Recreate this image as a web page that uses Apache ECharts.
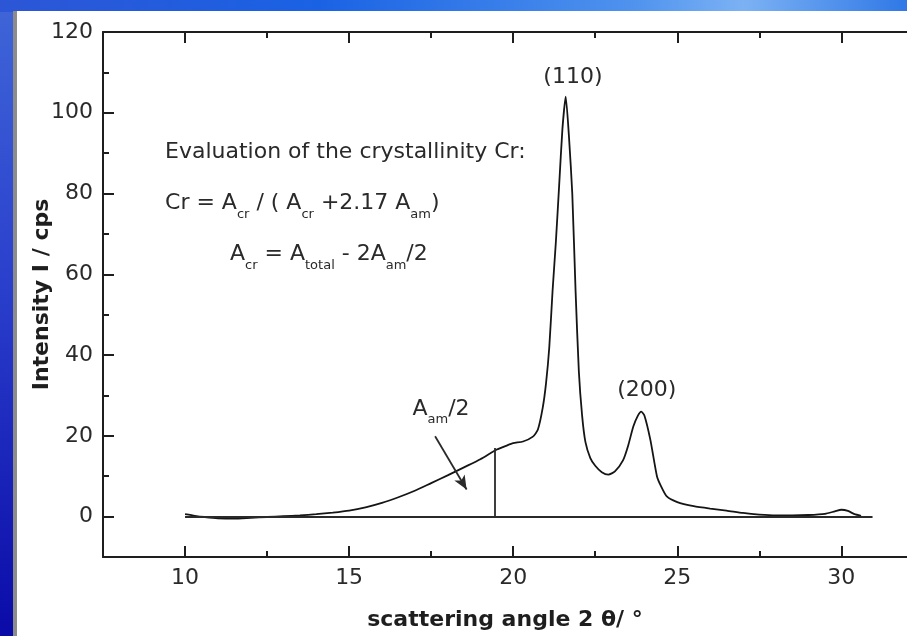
<!DOCTYPE html>
<html>
<head>
<meta charset="utf-8">
<title>Crystallinity evaluation</title>
<script src="https://cdn.jsdelivr.net/npm/echarts@6/dist/echarts.min.js"></script>
<style>
  html, body { margin: 0; padding: 0; }
  body { width: 907px; height: 636px; position: relative; overflow: hidden;
         background: linear-gradient(180deg, #3f66d8 0%, #2a3fcc 45%, #0b0ba8 100%); }
  #topband { position: absolute; left: 0; top: 0; width: 907px; height: 12px;
             background: linear-gradient(90deg, #2c56d6 0%, #1a62e4 35%, #4f93ee 70%, #7cb2f4 82%, #2f78e6 100%); }
  #panel { position: absolute; left: 13px; top: 11px; right: 0; bottom: 0;
           background: #fff; border-left: 4px solid #8c8c8c; }
  #chart { position: absolute; left: 0; top: 0; width: 907px; height: 636px; }
</style>
</head>
<body>
<div id="topband"></div>
<div id="panel"></div>
<div id="chart"></div>
<script>
  // scattering angle 2θ (°) and intensity (cps)
  const angle = [
    10.0, 10.3, 10.6, 11.0, 11.5, 12.0, 12.5, 13.0, 13.5, 14.0,
    14.5, 15.0, 15.5, 16.0, 16.5, 17.0, 17.5, 18.0, 18.5, 19.0,
    19.5, 19.8, 20.0, 20.3, 20.6, 20.75, 20.9, 21.0, 21.1, 21.2,
    21.3, 21.4, 21.5, 21.6, 21.7, 21.8, 21.9, 22.0, 22.1, 22.2,
    22.35, 22.5, 22.7, 22.9, 23.1, 23.35, 23.5, 23.66, 23.8, 23.9,
    24.0, 24.18, 24.38, 24.5, 24.68, 25.0, 25.5, 26.0, 26.5, 27.0,
    27.5, 28.0, 28.5, 29.0, 29.5, 29.8, 30.0, 30.2, 30.4, 30.6
  ];
  const intensity = [
    0.6, 0.2, -0.1, -0.4, -0.5, -0.3, -0.1, 0.1, 0.3, 0.6,
    1.0, 1.5, 2.3, 3.4, 4.8, 6.4, 8.3, 10.2, 12.2, 14.2,
    16.6, 17.6, 18.2, 18.6, 19.8, 21.5, 27, 33, 42, 56,
    68, 82, 96, 104, 94, 80, 56, 36, 25, 18.5,
    14.5, 12.6, 11.0, 10.4, 11.2, 14.0, 17.5, 22.3, 25.0, 26.0,
    25.0, 19.0, 10.0, 7.6, 5.0, 3.6, 2.6, 2.0, 1.5, 0.9,
    0.5, 0.3, 0.3, 0.4, 0.7, 1.3, 1.7, 1.4, 0.6, 0.2
  ];

  const xMajorTicks = [10, 15, 20, 25, 30];
  const xMinorTicks = [12.5, 17.5, 22.5, 27.5];
  const yMajorTicks = [0, 20, 40, 60, 80, 100, 120];
  const yMinorTicks = [10, 30, 50, 70, 90, 110];

  const FONT = 'DejaVu Sans';
  const INK = '#1e1e1e';
  const TEXT = '#2a2a2a';

  const chart = echarts.init(document.getElementById('chart'), null, { renderer: 'canvas' });

  function valueAxis(extra) {
    return Object.assign({
      type: 'value',
      splitLine: { show: false },
      axisLine: { show: true, onZero: false, lineStyle: { color: INK, width: 2 } },
      axisLabel: { show: false },
      axisTick: { show: true, inside: true, lineStyle: { color: INK, width: 2 } }
    }, extra);
  }

  const hiddenLine = { show: false, onZero: false };
  const xRange = { min: 7.5, max: 32 };
  const yRange = { min: -10, max: 120 };

  const normal = { fontFamily: FONT, fontSize: 22, color: TEXT };
  const sub = { fontFamily: FONT, fontSize: 13, color: TEXT, padding: [22, 0, 0, 0] };
  const richText = { n: normal, s: sub };

  function textMark(coord, formatter, position) {
    return {
      coord: coord,
      symbol: 'circle',
      symbolSize: 0,
      label: {
        show: true,
        position: position,
        distance: 0,
        formatter: formatter,
        rich: richText
      }
    };
  }

  const option = {
    animation: false,
    backgroundColor: 'transparent',
    grid: { left: 103, top: 32, right: 0, bottom: 79, containLabel: false, outerBoundsMode: 'none' },
    xAxis: [
      valueAxis(Object.assign({}, xRange, {
        position: 'bottom',
        name: 'scattering angle 2 θ/ °',
        nameLocation: 'middle',
        nameGap: 52,
        nameMoveOverlap: false,
        nameTextStyle: { fontFamily: FONT, fontWeight: 'bold', fontSize: 22, color: INK },
        axisTick: { show: true, inside: true, length: 11, customValues: xMajorTicks,
                    lineStyle: { color: INK, width: 2 } },
        axisLabel: { show: true, customValues: xMajorTicks, margin: 10,
                     fontFamily: FONT, fontSize: 22, color: TEXT }
      })),
      valueAxis(Object.assign({}, xRange, {
        position: 'bottom',
        axisLine: hiddenLine,
        axisTick: { show: true, inside: true, length: 6, customValues: xMinorTicks,
                    lineStyle: { color: INK, width: 2 } }
      })),
      valueAxis(Object.assign({}, xRange, {
        position: 'top',
        axisTick: { show: true, inside: true, length: 11, customValues: xMajorTicks,
                    lineStyle: { color: INK, width: 2 } }
      })),
      valueAxis(Object.assign({}, xRange, {
        position: 'top',
        axisLine: hiddenLine,
        axisTick: { show: true, inside: true, length: 6, customValues: xMinorTicks,
                    lineStyle: { color: INK, width: 2 } }
      }))
    ],
    yAxis: [
      valueAxis(Object.assign({}, yRange, {
        position: 'left',
        name: 'Intensity I / cps',
        nameLocation: 'middle',
        nameGap: 50,
        nameMoveOverlap: false,
        nameTextStyle: { fontFamily: FONT, fontWeight: 'bold', fontSize: 22, color: INK },
        axisTick: { show: true, inside: true, length: 11, customValues: yMajorTicks,
                    lineStyle: { color: INK, width: 2 } },
        axisLabel: { show: true, customValues: yMajorTicks, margin: 10,
                     fontFamily: FONT, fontSize: 22, color: TEXT }
      })),
      valueAxis(Object.assign({}, yRange, {
        position: 'left',
        axisLine: hiddenLine,
        axisTick: { show: true, inside: true, length: 6, customValues: yMinorTicks,
                    lineStyle: { color: INK, width: 2 } }
      }))
    ],
    series: [
      {
        name: 'Intensity',
        type: 'line',
        xAxisIndex: 0,
        yAxisIndex: 0,
        data: angle.map((a, i) => [a, intensity[i]]),
        showSymbol: false,
        smooth: 0.2,
        lineStyle: { color: '#151515', width: 1.8 },
        markLine: {
          silent: true,
          symbol: ['none', 'none'],
          label: { show: false },
          lineStyle: { type: 'solid', color: '#2a2a2a', width: 1.8 },
          data: [
            [{ coord: [10, 0] }, { coord: [30.95, 0] }],
            [{ coord: [19.45, 0] }, { coord: [19.45, 17] }],
            [{ coord: [17.62, 19.9], symbol: 'none' },
             { coord: [18.58, 6.7], symbol: 'arrow', symbolSize: [9, 14] }]
          ]
        },
        markPoint: {
          silent: true,
          data: [
            textMark([9.39, 90.3], '{n|Evaluation of the crystallinity Cr:}', 'right'),
            textMark([9.39, 77.5], '{n|Cr = A}{s|cr}{n| / ( A}{s|cr}{n| +2.17 A}{s|am}{n|)}', 'right'),
            textMark([11.37, 64.9], '{n|A}{s|cr}{n| = A}{s|total}{n| - 2A}{s|am}{n|/2}', 'right'),
            textMark([17.8, 26.7], '{n|A}{s|am}{n|/2}', 'inside'),
            textMark([21.82, 108.9], '{n|(110)}', 'inside'),
            textMark([24.07, 31.4], '{n|(200)}', 'inside')
          ]
        }
      }
    ]
  };

  chart.setOption(option);
  window.addEventListener('resize', () => chart.resize());
</script>
</body>
</html>
